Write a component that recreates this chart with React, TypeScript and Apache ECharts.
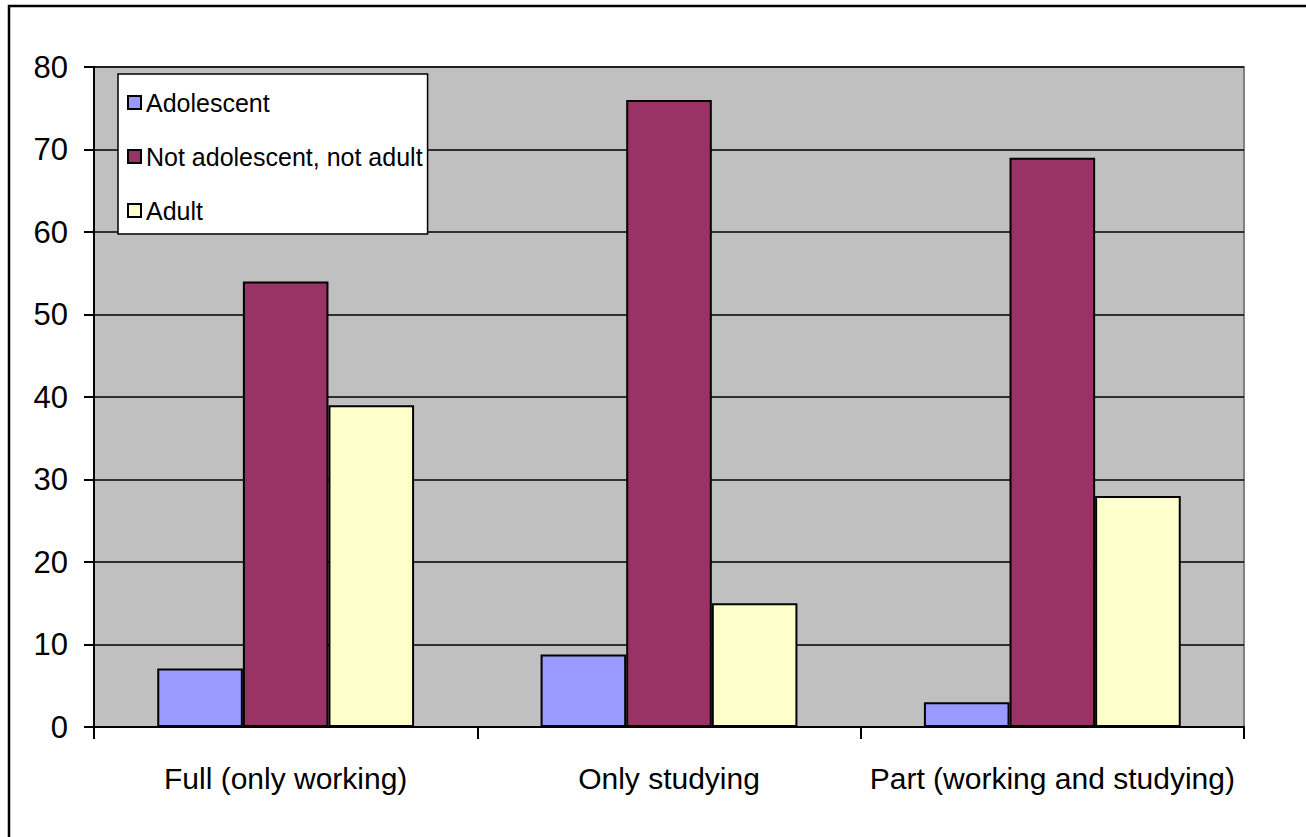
import React, { useEffect, useRef } from "react";
import * as echarts from "echarts";

const categories = ["Full (only working)", "Only studying", "Part (working and studying)"];
const seriesNames = ["Adolescent", "Not adolescent, not adult", "Adult"];
const adolescent = [7.1, 8.8, 3];
const notAdolescentNotAdult = [54, 76, 69];
const adult = [39, 15, 28];
const yTicks = { min: 0, max: 80, interval: 10 };
const colors = ["#9999FF", "#993366", "#FFFFCC"];

export default function App() {
  const ref = useRef<HTMLDivElement>(null);
  useEffect(() => {
    if (!ref.current) return;
    const chart = echarts.init(ref.current, undefined, { renderer: "svg" });
    const font = "'Liberation Sans', Arial, sans-serif";
    const values = [adolescent, notAdolescentNotAdult, adult];
    chart.setOption({
      animation: false,
      textStyle: { fontFamily: font },
      graphic: [
        {
          type: "rect",
          shape: { x: 9, y: 6, width: 1400, height: 900 },
          style: { fill: "none", stroke: "#000", lineWidth: 2.5 },
          z: 100,
        },
      ],
      grid: {
        left: 94,
        top: 67,
        width: 1150,
        height: 660,
        show: true,
        backgroundColor: "#C0C0C0",
        borderColor: "#808080",
        borderWidth: 2,
      },
      legend: {
        orient: "vertical",
        left: 118,
        top: 74,
        backgroundColor: "#FFFFFF",
        borderColor: "#000",
        borderWidth: 1.5,
        padding: [16, 5, 11, 9],
        itemGap: 29,
        itemWidth: 13,
        itemHeight: 13,
        itemTextGap: 11,
        icon: "rect",
        textStyle: { fontSize: 25, color: "#000", fontFamily: font },
        data: seriesNames,
        z: 10,
      },
      xAxis: {
        type: "category",
        data: categories,
        axisLine: { lineStyle: { color: "#000", width: 2 } },
        axisTick: { show: true, length: 12, lineStyle: { color: "#000", width: 2 } },
        axisLabel: { fontSize: 30, color: "#000", margin: 36, interval: 0, fontFamily: font },
        splitLine: { show: false },
      },
      yAxis: {
        type: "value",
        min: yTicks.min,
        max: yTicks.max,
        interval: yTicks.interval,
        axisLine: { show: true, lineStyle: { color: "#000", width: 2 } },
        axisTick: { show: true, length: 10, lineStyle: { color: "#000", width: 2 } },
        axisLabel: { fontSize: 31, color: "#000", margin: 26, fontFamily: font },
        splitLine: { show: true, lineStyle: { color: "#000", width: 1.5 } },
      },
      series: seriesNames.map((name, i) => ({
        name,
        type: "bar",
        data: values[i],
        barGap: "0%",
        barCategoryGap: "33%",
        itemStyle: { color: colors[i], borderColor: "#000", borderWidth: 2 },
      })),
    });
    return () => chart.dispose();
  }, []);
  return (
    <div
      ref={ref}
      style={{ position: "absolute", left: 0, top: 0, width: 1306, height: 837, background: "#fff" }}
    />
  );
}
